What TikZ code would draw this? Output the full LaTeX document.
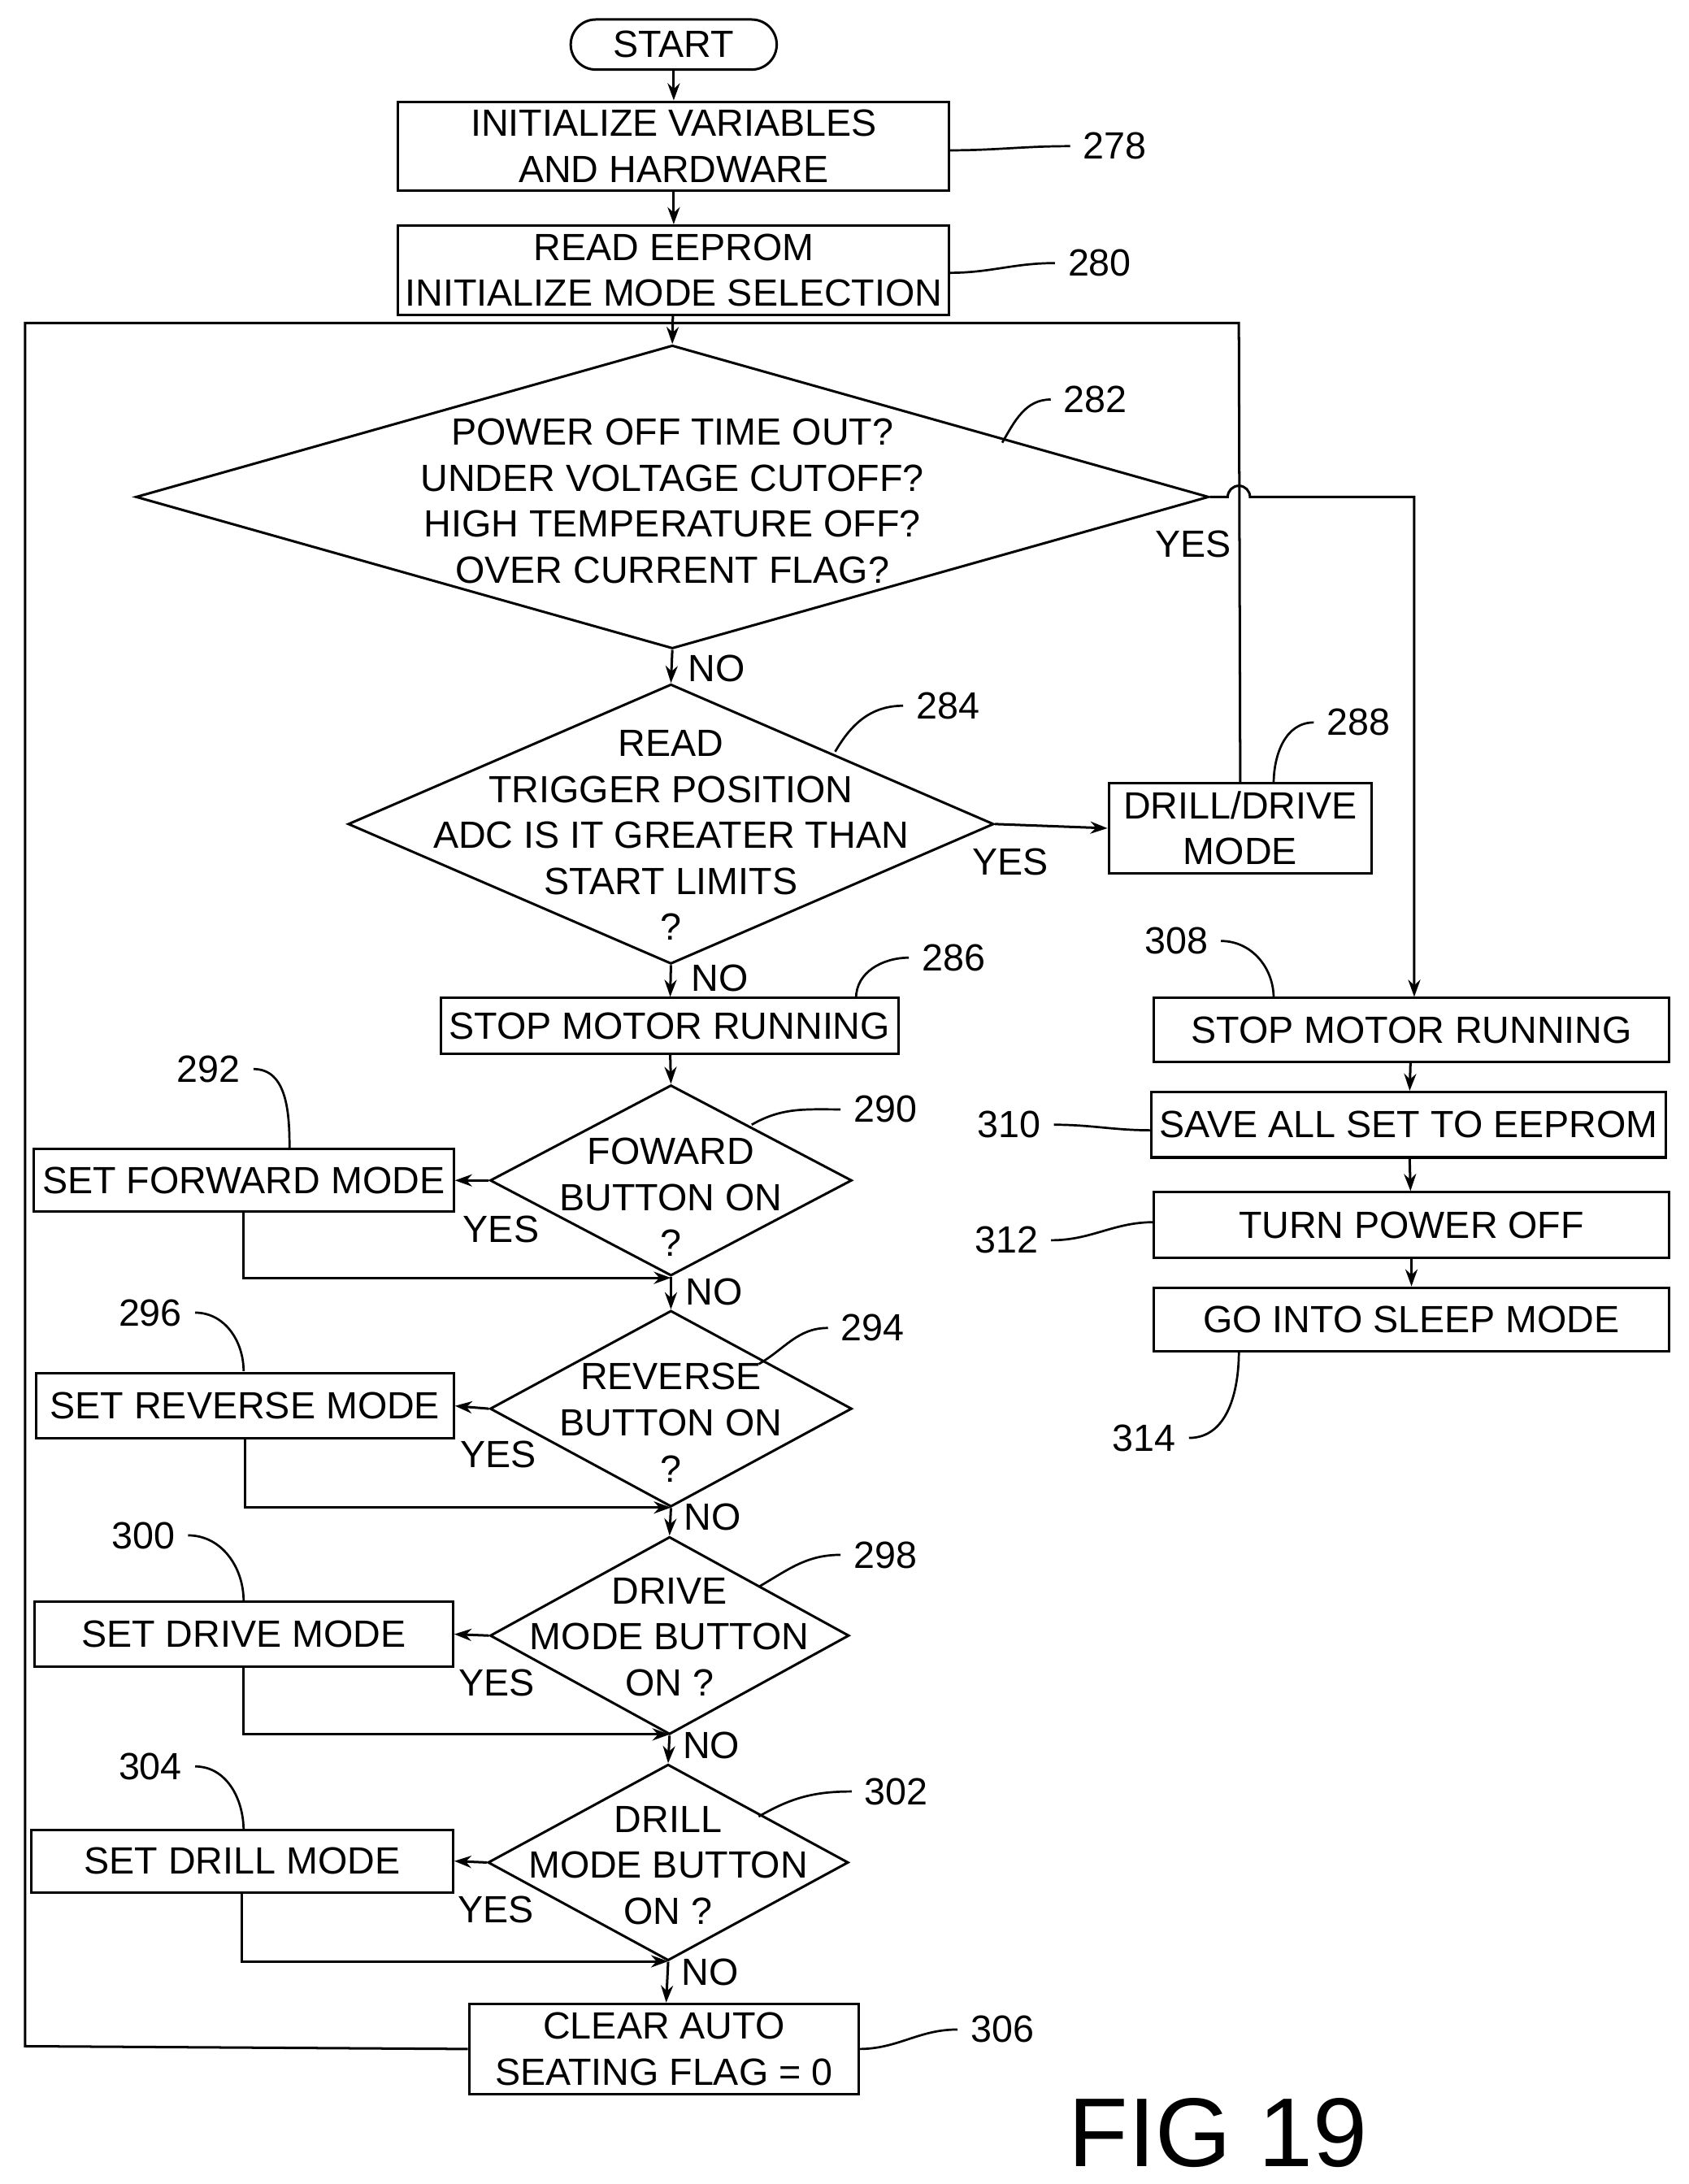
\documentclass[tikz,border=0pt]{standalone}
\usepackage{fontspec}
\setmainfont{Liberation Sans}
\usetikzlibrary{shapes.geometric,arrows.meta}
\tikzset{
  box/.style={draw, line width=1pt, inner sep=0pt, align=center},
  dia/.style={draw, diamond, line width=1pt, inner sep=0pt},
  txt/.style={align=center, inner sep=0pt},
  flow/.style={line width=1pt, -{Stealth[length=7pt,width=5pt]}},
  line/.style={line width=1pt},
  lead/.style={line width=0.9pt}
}
\begin{document}
\fontsize{15.5}{18.8}\selectfont
\begin{tikzpicture}[x=0.02cm,y=-0.02cm]
  \useasboundingbox (0,0) rectangle (1213,1569);
  % main column
  \node[box, rounded corners=0.36cm, minimum width=2.96cm, minimum height=0.72cm] (start) at (484,32) {START};
  \node[box, minimum width=7.92cm, minimum height=1.28cm] (b278) at (484,105) {INITIALIZE VARIABLES\\AND HARDWARE};
  \node[box, minimum width=7.92cm, minimum height=1.28cm] (b280) at (484,194) {READ EEPROM\\INITIALIZE MODE SELECTION};
  \node[dia, minimum width=15.42cm, minimum height=4.36cm] (d282) at (483,357) {};
  \node[txt] at (483,360) {POWER OFF TIME OUT?\\UNDER VOLTAGE CUTOFF?\\HIGH TEMPERATURE OFF?\\OVER CURRENT FLAG?};
  \node[dia, minimum width=9.28cm, minimum height=4.02cm] (d284) at (482,592) {};
  \node[txt] at (482,600) {READ\\TRIGGER POSITION\\ADC IS IT GREATER THAN\\START LIMITS\\?};
  \node[box, minimum width=3.78cm, minimum height=1.3cm] (b288) at (891,595) {DRILL/DRIVE\\MODE};
  \node[box, minimum width=6.58cm, minimum height=0.8cm] (b286) at (481,737) {STOP MOTOR RUNNING};
  \node[dia, minimum width=5.2cm, minimum height=2.74cm] (d290) at (482,848) {};
  \node[txt] at (482,860) {FOWARD\\BUTTON ON\\?};
  \node[box, minimum width=6.04cm, minimum height=0.9cm] (b292) at (175,848) {SET FORWARD MODE};
  \node[dia, minimum width=5.2cm, minimum height=2.82cm] (d294) at (482,1012) {};
  \node[txt] at (482,1022) {REVERSE\\BUTTON ON\\?};
  \node[box, minimum width=6.0cm, minimum height=0.94cm] (b296) at (176,1010) {SET REVERSE MODE};
  \node[dia, minimum width=5.16cm, minimum height=2.84cm] (d298) at (481,1175) {};
  \node[txt] at (481,1176) {DRIVE\\MODE BUTTON\\ON ?};
  \node[box, minimum width=6.02cm, minimum height=0.94cm] (b300) at (175,1174) {SET DRIVE MODE};
  \node[dia, minimum width=5.18cm, minimum height=2.82cm] (d302) at (480,1338) {};
  \node[txt] at (480,1340) {DRILL\\MODE BUTTON\\ON ?};
  \node[box, minimum width=6.06cm, minimum height=0.9cm] (b304) at (174,1337) {SET DRILL MODE};
  \node[box, minimum width=5.6cm, minimum height=1.3cm] (b306) at (477,1472) {CLEAR AUTO\\SEATING FLAG = 0};
  % right column
  \node[box, minimum width=7.4cm, minimum height=0.92cm] (b308) at (1014,740) {STOP MOTOR RUNNING};
  \node[box, minimum width=7.4cm, minimum height=0.94cm] (b310) at (1012,808) {SAVE ALL SET TO EEPROM};
  \node[box, minimum width=7.4cm, minimum height=0.94cm] (b312) at (1014,880) {TURN POWER OFF};
  \node[box, minimum width=7.4cm, minimum height=0.92cm] (b314) at (1014,948) {GO INTO SLEEP MODE};
  % junction points
  \coordinate (top) at (483,232);
  \coordinate (lft) at (18,232);
  \coordinate (rgt) at (890,232);
  \coordinate (j1) at (482,918);
  \coordinate (j2) at (482,1083);
  \coordinate (j3) at (481,1246);
  \coordinate (j4) at (480,1409);
  % main flow
  \draw[flow] (start) -- (b278);
  \draw[flow] (b278) -- (b280);
  \draw[flow] (b280) -- (d282.north);
  \draw[flow] (d282.south) -- (d284.north);
  \draw[flow] (d284.south) -- (b286);
  \draw[flow] (b286) -- (d290.north);
  \draw[flow] (d290.south) -- (d294.north);
  \draw[flow] (d294.south) -- (d298.north);
  \draw[flow] (d298.south) -- (d302.north);
  \draw[flow] (d302.south) -- (b306);
  \draw[flow] (d284.east) -- (b288.west);
  \draw[line] (b288.north) -- (rgt) -- (top);
  \draw[line] (b306.west) -- (18,1470) -- (lft) -- (top);
  % side branches
  \draw[flow] (d290.west) -- (b292.east);
  \draw[flow] (b292.south) |- (j1);
  \draw[flow] (d294.west) -- (b296.east);
  \draw[flow] (b296.south) |- (j2);
  \draw[flow] (d298.west) -- (b300.east);
  \draw[flow] (b300.south) |- (j3);
  \draw[flow] (d302.west) -- (b304.east);
  \draw[flow] (b304.south) |- (j4);
  % yes branch with jump
  \draw[flow] (d282.east) -- (882,357) arc[start angle=180, end angle=0, radius=0.16cm] -- (1016,357) -- (b308.north -| 1016,0);
  \draw[flow] (b308) -- (b310);
  \draw[flow] (b310) -- (b312);
  \draw[flow] (b312) -- (b314);
  % yes / no labels
  \node at (515,480) {NO};
  \node at (857,391) {YES};
  \node at (517,703) {NO};
  \node at (726,619) {YES};
  \node at (360,883) {YES};
  \node at (513,928) {NO};
  \node at (358,1045) {YES};
  \node at (512,1090) {NO};
  \node at (357,1209) {YES};
  \node at (511,1254) {NO};
  \node at (356,1372) {YES};
  \node at (510,1417) {NO};
  % reference numbers
  \node (n278) at (801,105) {278};
  \node (n280) at (790,189) {280};
  \node (n282) at (787,287) {282};
  \node (n284) at (681,507) {284};
  \node (n288) at (976,519) {288};
  \node (n286) at (685,688) {286};
  \node (n290) at (636,797) {290};
  \node (n292) at (150,768) {292};
  \node (n294) at (627,954) {294};
  \node (n296) at (108,943) {296};
  \node (n298) at (636,1117) {298};
  \node (n300) at (103,1103) {300};
  \node (n302) at (644,1287) {302};
  \node (n304) at (108,1269) {304};
  \node (n306) at (720,1458) {306};
  \node (n308) at (845,676) {308};
  \node (n310) at (725,808) {310};
  \node (n312) at (723,891) {312};
  \node (n314) at (822,1033) {314};
  \draw[lead] (682,108) to[out=0,in=180] (n278.west);
  \draw[lead] (682,196) to[out=0,in=180] (n280.west);
  \draw[lead] (720,318) to[out=60,in=180] (n282.west);
  \draw[lead] (600,540) to[out=60,in=180] (n284.west);
  \draw[lead] (915,563) to[out=90,in=180] (n288.west);
  \draw[lead] (615,717) to[out=90,in=180] (n286.west);
  \draw[lead] (540,808) to[out=30,in=180] (n290.west);
  \draw[lead] (n292.east) to[out=0,in=90] (208,825);
  \draw[lead] (545,980) to[out=30,in=180] (n294.west);
  \draw[lead] (n296.east) to[out=0,in=90] (175,985);
  \draw[lead] (545,1140) to[out=30,in=180] (n298.west);
  \draw[lead] (n300.east) to[out=0,in=90] (175,1150);
  \draw[lead] (545,1305) to[out=30,in=180] (n302.west);
  \draw[lead] (n304.east) to[out=0,in=90] (175,1315);
  \draw[lead] (617,1472) to[out=0,in=180] (n306.west);
  \draw[lead] (n308.east) to[out=0,in=90] (915,717);
  \draw[lead] (n310.east) to[out=0,in=180] (827,812);
  \draw[lead] (n312.east) to[out=0,in=180] (829,878);
  \draw[lead] (890,971) to[out=-90,in=0] (n314.east);
  \node[font=\fontsize{40}{44}\selectfont] (fig) at (875,1532) {FIG 19};
\end{tikzpicture}
\end{document}
